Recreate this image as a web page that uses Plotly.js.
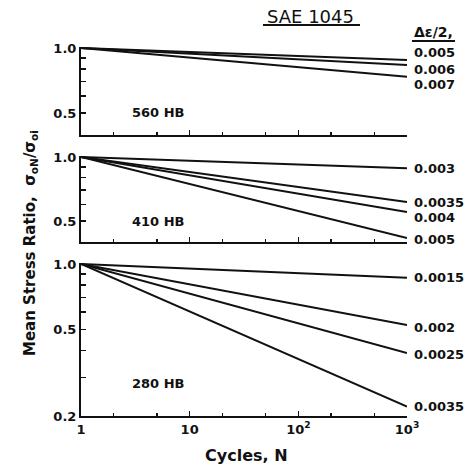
<!DOCTYPE html>
<html>
<head>
<meta charset="utf-8">
<script src="https://cdn.plot.ly/plotly-3.0.1.min.js"></script>
<style>html,body{margin:0;padding:0;background:#fff;}#chart{width:470px;height:468px;}</style>
</head>
<body>
<div id="chart"></div>
<script>
// ---- data ----
const cycles = [1, 1000];
const startRatio = 1.0;
const hb560Strain = ["0.005", "0.006", "0.007"];
const hb560End = [0.880, 0.834, 0.736];
const hb410Strain = ["0.003", "0.0035", "0.004", "0.005"];
const hb410End = [0.885, 0.615, 0.552, 0.417];
const hb280Strain = ["0.0015", "0.002", "0.0025", "0.0035"];
const hb280End = [0.865, 0.524, 0.390, 0.221];
const panelNames = ["560 HB", "410 HB", "280 HB"];
const xTickVals = [1, 10, 100, 1000];
const xTickText = ["1", "10", "10<sup>2</sup>", "10<sup>3</sup>"];
const xMinorVals = [2, 5, 20, 50, 200, 500];
const yTickValsShort = [0.5, 0.6, 0.7, 0.8, 0.9, 1.0];
const yTickTextShort = ["0.5", "", "", "", "", "1.0"];
const yTickValsLong = [0.2, 0.3, 0.4, 0.5, 0.6, 0.7, 0.8, 0.9, 1.0];
const yTickTextLong = ["0.2", "", "", "0.5", "", "", "", "", "1.0"];

// ---- styling / layout ----
const FONT = "DejaVu Sans, sans-serif";
const panels = [
  {strain: hb560Strain, end: hb560End, xa: "x", ya: "y", shifts: [7, -4, -8], labY: 0.505},
  {strain: hb410Strain, end: hb410End, xa: "x2", ya: "y2", shifts: [0, -1, -6, -2], labY: 0.50},
  {strain: hb280Strain, end: hb280End, xa: "x3", ya: "y3", shifts: [0, -2, -2, 0], labY: 0.281}
];

const traces = [];
const annotations = [];
panels.forEach((p, pi) => {
  p.strain.forEach((s, i) => {
    traces.push({
      x: cycles, y: [startRatio, p.end[i]],
      xaxis: p.xa, yaxis: p.ya, type: "scatter", mode: "lines",
      line: {color: "#111", width: 2}, name: s, hoverinfo: "skip"
    });
    annotations.push({
      x: Math.log10(cycles[1]), y: Math.log10(p.end[i]), xref: p.xa, yref: p.ya,
      text: s, showarrow: false, xanchor: "left", yanchor: "middle",
      xshift: 5, yshift: p.shifts[i],
      font: {family: FONT, size: 13, color: "#111", weight: "bold"}
    });
  });
  annotations.push({
    x: 0.15, y: Math.log10(p.labY), xref: "paper", yref: p.ya,
    text: panelNames[pi], showarrow: false, xanchor: "left", yanchor: "middle",
    font: {family: FONT, size: 13, color: "#111", weight: "bold"}
  });
});

annotations.push({
  x: 310 / 470, y: 1 - 16 / 468, xref: "paper", yref: "paper",
  text: "SAE 1045", showarrow: false, xanchor: "center", yanchor: "middle",
  font: {family: FONT, size: 18, color: "#111"}
});
annotations.push({
  x: 412 / 470, y: 1 - 32 / 468, xref: "paper", yref: "paper",
  text: "Δε/2,", showarrow: false, xanchor: "left", yanchor: "middle",
  font: {family: FONT, size: 14, color: "#111", weight: "bold"}
});
annotations.push({
  x: 30 / 470, y: 1 - 243 / 468, xref: "paper", yref: "paper",
  text: "Mean Stress Ratio,  σ<sub>oN</sub>/σ<sub>oi</sub>", showarrow: false,
  textangle: -90, xanchor: "center", yanchor: "middle",
  font: {family: FONT, size: 15, color: "#111", weight: "bold"}
});
annotations.push({
  x: 246 / 470, y: 1 - 455 / 468, xref: "paper", yref: "paper",
  text: "Cycles, N", showarrow: false, xanchor: "center", yanchor: "middle",
  font: {family: FONT, size: 16, color: "#111", weight: "bold"}
});

// annotations above are in container fractions; convert to plot-area paper coords
const M = {l: 81, r: 63, t: 47, b: 52};
const W = 470, H = 468;
annotations.forEach(a => {
  if (a.xref === "paper" && a.yref === "paper") {
    const px = a.x * W, py = (1 - a.y) * H;
    a.x = (px - M.l) / (W - M.l - M.r);
    a.y = (H - M.b - py) / (H - M.t - M.b);
  }
});

function xAxis(anchor, labels) {
  return {
    type: "log", range: [0, 3], anchor: anchor, domain: [0, 1],
    showline: true, linecolor: "#111", linewidth: 2,
    ticks: "inside", ticklen: 5, tickwidth: 1.5, tickcolor: "#111",
    tickmode: "array", tickvals: xTickVals, ticktext: xTickText,
    showticklabels: labels, showgrid: false, zeroline: false,
    tickfont: {family: FONT, size: 13, color: "#111", weight: "bold"},
    minor: {tickmode: "array", tickvals: xMinorVals, ticks: "inside", ticklen: 3, tickwidth: 1.5, tickcolor: "#111", showgrid: false}
  };
}
function yAxis(anchor, domain, range, vals, text) {
  return {
    type: "log", range: range, anchor: anchor, domain: domain,
    showline: true, linecolor: "#111", linewidth: 2,
    ticks: "inside", ticklen: 5, tickwidth: 1.5, tickcolor: "#111",
    tickmode: "array", tickvals: vals, ticktext: text,
    showgrid: false, zeroline: false,
    tickfont: {family: FONT, size: 13, color: "#111", weight: "bold"}
  };
}

const plotH = H - M.t - M.b;
const plotW = W - M.l - M.r;
function dom(topPx, botPx) { return [(H - M.b - botPx) / plotH, (H - M.b - topPx) / plotH]; }

const shapes = [
  {type: "line", xref: "paper", yref: "paper", x0: (263 - M.l) / plotW, x1: (360 - M.l) / plotW,
   y0: (H - M.b - 25) / plotH, y1: (H - M.b - 25) / plotH, line: {color: "#111", width: 2}},
  {type: "line", xref: "paper", yref: "paper", x0: (412 - M.l) / plotW, x1: (455 - M.l) / plotW,
   y0: (H - M.b - 41) / plotH, y1: (H - M.b - 41) / plotH, line: {color: "#111", width: 2}}
];

const layout = {
  width: W, height: H, margin: M, showlegend: false,
  paper_bgcolor: "#fff", plot_bgcolor: "#fff",
  xaxis: xAxis("y", false),
  xaxis2: xAxis("y2", false),
  xaxis3: xAxis("y3", true),
  yaxis: yAxis("x", dom(47, 135), [-0.403, 0.0046], yTickValsShort, yTickTextShort),
  yaxis2: yAxis("x2", dom(156, 242), [-0.399, 0.0047], yTickValsShort, yTickTextShort),
  yaxis3: yAxis("x3", dom(263, 416), [-0.699, 0.0046], yTickValsLong, yTickTextLong),
  annotations: annotations, shapes: shapes
};

Plotly.newPlot("chart", traces, layout, {staticPlot: true, displayModeBar: false});
</script>
</body>
</html>
